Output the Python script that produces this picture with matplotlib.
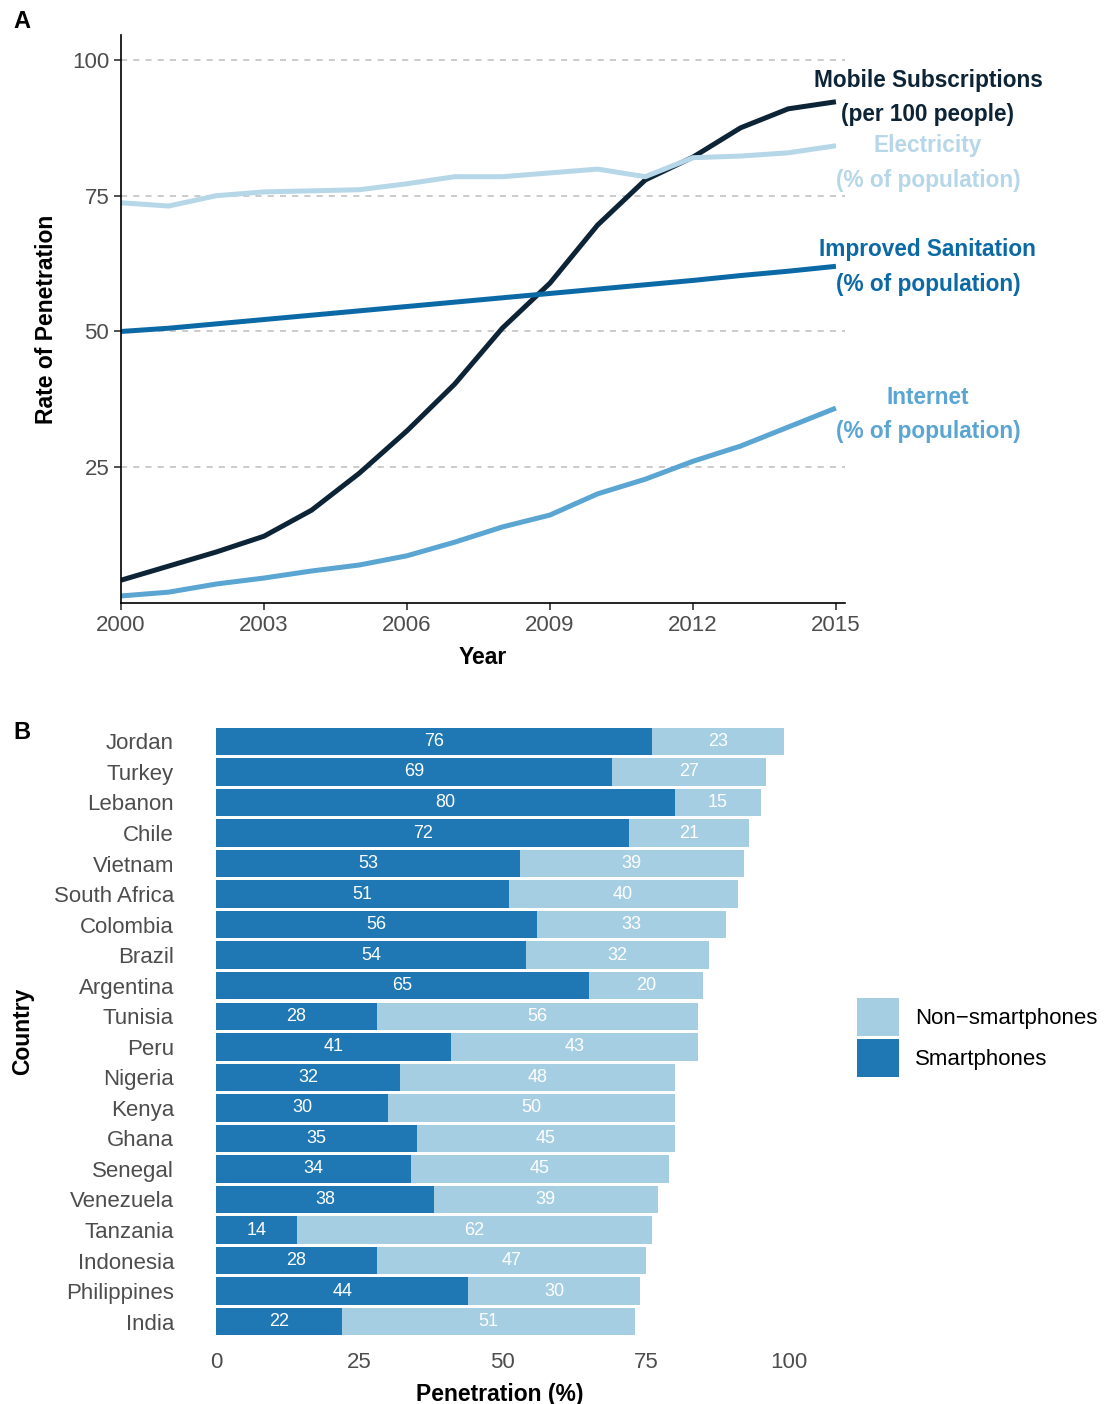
import matplotlib.pyplot as plt
import numpy as np

plt.rcParams['font.family'] = ['Liberation Sans', 'DejaVu Sans']

# Panel A data
years = list(range(2000, 2016))
mobile = [4.2, 6.8, 9.4, 12.3, 17.1, 23.9, 31.7, 40.3, 50.6, 58.9, 69.6, 77.9, 82.1, 87.5, 91.0, 92.3]
electricity = [73.7, 73.1, 75.0, 75.7, 75.9, 76.1, 77.2, 78.5, 78.5, 79.2, 79.9, 78.5, 82.0, 82.3, 82.9, 84.2]
sanitation = [50.0, 50.6, 51.4, 52.2, 53.0, 53.8, 54.6, 55.4, 56.2, 57.0, 57.8, 58.6, 59.4, 60.3, 61.1, 62.0]
internet = [1.3, 2.0, 3.5, 4.6, 5.9, 7.0, 8.7, 11.2, 14.0, 16.2, 20.1, 22.8, 26.1, 28.9, 32.4, 35.9]

# Panel B data
countries = ['Jordan', 'Turkey', 'Lebanon', 'Chile', 'Vietnam', 'South Africa', 'Colombia',
             'Brazil', 'Argentina', 'Tunisia', 'Peru', 'Nigeria', 'Kenya', 'Ghana', 'Senegal',
             'Venezuela', 'Tanzania', 'Indonesia', 'Philippines', 'India']
smart = [76, 69, 80, 72, 53, 51, 56, 54, 65, 28, 41, 32, 30, 35, 34, 38, 14, 28, 44, 22]
nonsmart = [23, 27, 15, 21, 39, 40, 33, 32, 20, 56, 43, 48, 50, 45, 45, 39, 62, 47, 30, 51]

grey = '#4d4d4d'
tick_fs = 16
title_fs = 16.5
fig = plt.figure(figsize=(11.07, 14.04), dpi=100)

# ---- Panel A ----
ax = fig.add_axes([0.1093, 0.5705, 0.654, 0.4046])
series = [
    (mobile, '#0d2436', 'Mobile Subscriptions\n(per 100 people)', 93.1),
    (electricity, '#b6d7e8', 'Electricity\n(% of population)', 81.0),
    (sanitation, '#0b69a6', 'Improved Sanitation\n(% of population)', 61.9),
    (internet, '#5aa5d2', 'Internet\n(% of population)', 34.7),
]
for vals, col, lab, ly in series:
    ax.plot(years, vals, color=col, lw=3.6, solid_capstyle='butt')
    ax.text(2016.93, ly, lab, color=col, fontsize=16.3, fontweight='bold',
            ha='center', va='center', linespacing=1.65, clip_on=False)
for v in [25, 50, 75, 100]:
    ax.axhline(v, color='#bdbdbd', lw=1.1, ls=(0, (4, 4)), zorder=0)
ax.set_xlim(2000, 2015.19)
ax.set_ylim(0, 104.6)
ax.set_xticks([2000, 2003, 2006, 2009, 2012, 2015])
ax.set_yticks([25, 50, 75, 100])
ax.tick_params(colors='#333333', labelcolor=grey, labelsize=tick_fs, length=5, width=1.2)
for s in ['top', 'right']:
    ax.spines[s].set_visible(False)
for s in ['left', 'bottom']:
    ax.spines[s].set_linewidth(1.2)
ax.set_xlabel('Year', fontsize=title_fs, fontweight='bold', labelpad=7)
ax.set_ylabel('Rate of Penetration', fontsize=title_fs, fontweight='bold', labelpad=10)

# ---- Panel B ----
bx = fig.add_axes([0.1698, 0.0456, 0.5637, 0.4394])
ypos = np.arange(len(countries))[::-1]
b1 = bx.barh(ypos, smart, height=0.9, color='#1f78b4', label='Smartphones')
b2 = bx.barh(ypos, nonsmart, left=smart, height=0.9, color='#a6cee3', label='Non\u2212smartphones')
for y, s, n in zip(ypos, smart, nonsmart):
    bx.text(s / 2, y, str(s), color='white', fontsize=13, ha='center', va='center')
    bx.text(s + n / 2, y, str(n), color='white', fontsize=13, ha='center', va='center')
bx.set_yticks(ypos)
bx.set_yticklabels(countries)
bx.set_xticks([0, 25, 50, 75, 100])
bx.set_xlim(-4.95, 103.95)
bx.set_ylim(-0.6, len(countries) - 0.4)
bx.tick_params(length=0, labelcolor=grey, labelsize=tick_fs, pad=9)
bx.tick_params(axis='y', pad=10)
for s in bx.spines.values():
    s.set_visible(False)
bx.set_xlabel('Penetration (%)', fontsize=title_fs, fontweight='bold', labelpad=7)
bx.set_ylabel('Country', fontsize=title_fs, fontweight='bold', labelpad=14)
leg = bx.legend(handles=[b2, b1], loc='center left', bbox_to_anchor=(1.04, 0.49),
                frameon=False, fontsize=16, handlelength=1.9, handleheight=2.25,
                handletextpad=0.7, labelspacing=0.15)

fig.text(0.012, 0.985, 'A', fontsize=17, fontweight='bold', va='center')
fig.text(0.012, 0.478, 'B', fontsize=17, fontweight='bold', va='center')

fig.savefig('out.png', dpi=100)
